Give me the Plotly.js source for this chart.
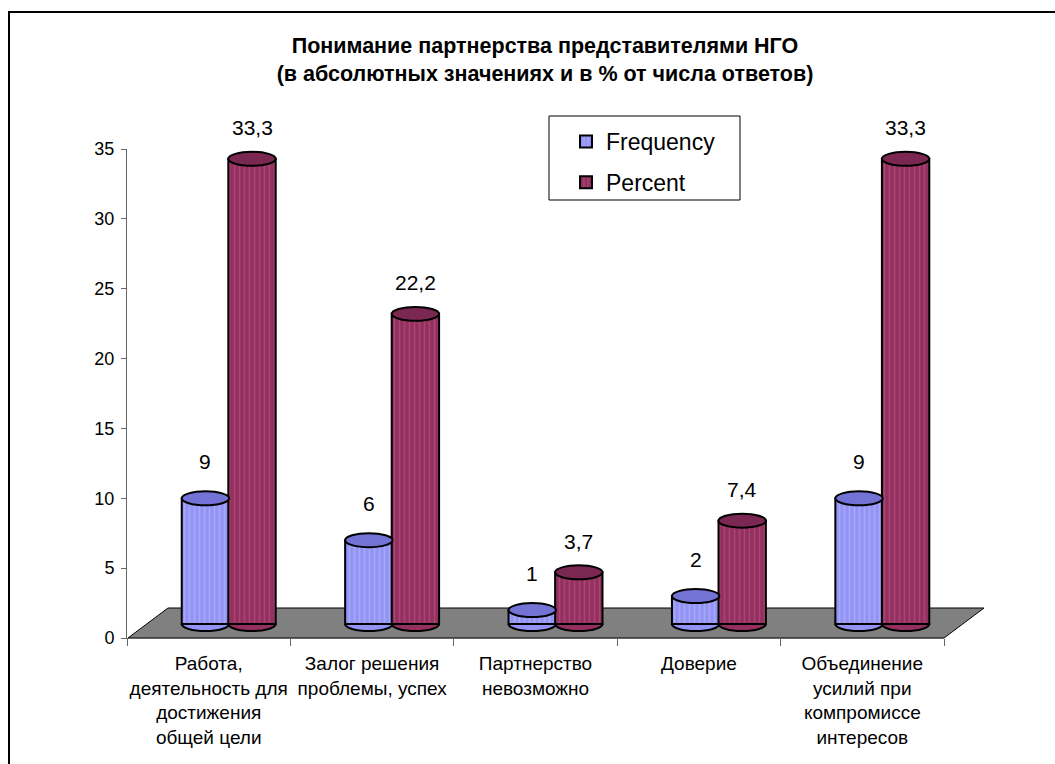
<!DOCTYPE html>
<html>
<head>
<meta charset="utf-8">
<script src="https://cdn.plot.ly/plotly-3.0.1.min.js"></script>
<style>html,body{margin:0;padding:0;background:#fff;}#chart{width:1055px;height:764px;}</style>
</head>
<body>
<div id="chart"></div>
<script>
// ---- data ----
const categories = [
  "Работа,<br>деятельность для<br>достижения<br>общей цели",
  "Залог решения<br>проблемы, успех",
  "Партнерство<br>невозможно",
  "Доверие",
  "Объединение<br>усилий при<br>компромиссе<br>интересов"
];
const frequency = [9, 6, 1, 2, 9];
const percent = [33.3, 22.2, 3.7, 7.4, 33.3];
const seriesNames = ["Frequency", "Percent"];
const yTicks = [0, 5, 10, 15, 20, 25, 30, 35];

// ---- geometry (pixels) ----
const W = 1055, H = 764;
const L = 127, R = 944, T = 149, B = 638;
const px2x = p => (p - L) / (R - L);
const px2y = p => (B - p) / (B - T);

const fmt = v => String(v).replace('.', ',');
const FONT = 'Liberation Sans, Arial, sans-serif';

const freqOffset = -0.165, pctOffset = 0.12, barW = 0.29;
const ellH = 0.5;

const fFill = '#9393F5', fTop = '#7373D6';
const pFill = '#93305F', pTop = '#7A2752';

const traces = [
  {
    type: 'bar', name: seriesNames[0], x: categories, y: frequency,
    xaxis: 'x', yaxis: 'y2', offset: freqOffset, width: barW,
    legendgroup: 'f',
    marker: {color: fFill, line: {color: '#000', width: 2},
      pattern: {shape: '|', fillmode: 'overlay', fgcolor: '#BDBDFF', size: 5, solidity: 0.3}},
    hoverinfo: 'skip'
  },
  {
    type: 'bar', name: seriesNames[1], x: categories, y: percent,
    xaxis: 'x', yaxis: 'y2', offset: pctOffset, width: barW,
    legendgroup: 'p',
    marker: {color: pFill, line: {color: '#000', width: 2},
      pattern: {shape: '|', fillmode: 'overlay', fgcolor: '#BC5A8A', size: 5, solidity: 0.3}},
    hoverinfo: 'skip'
  },
  // anchor trace so the value axis (0–35) is drawn
  {
    type: 'scatter', mode: 'markers', x: [categories[0]], y: [0],
    xaxis: 'x', yaxis: 'y', marker: {opacity: 0}, showlegend: false, hoverinfo: 'skip'
  }
];

const shapes = [];
// outer border
shapes.push({type: 'rect', xref: 'paper', yref: 'paper', layer: 'below',
  x0: px2x(9), x1: px2x(1070), y0: px2y(780), y1: px2y(12),
  line: {color: '#000', width: 2}, fillcolor: 'rgba(0,0,0,0)'});
// legend box
shapes.push({type: 'rect', xref: 'paper', yref: 'paper', layer: 'below',
  x0: px2x(549), x1: px2x(740), y0: px2y(200), y1: px2y(116),
  line: {color: '#000', width: 1}, fillcolor: '#fff'});
// floor
shapes.push({type: 'path', xref: 'paper', yref: 'paper', layer: 'below',
  path: `M ${px2x(128)} ${px2y(638)} L ${px2x(944)} ${px2y(638)} L ${px2x(984)} ${px2y(608)} L ${px2x(168)} ${px2y(608)} Z`,
  fillcolor: '#808080', line: {color: '#000', width: 1}});

const series = [
  {vals: frequency, off: freqOffset, fill: fFill, top: fTop},
  {vals: percent, off: pctOffset, fill: pFill, top: pTop}
];
series.forEach(s => {
  s.vals.forEach((v, i) => {
    shapes.push({type: 'circle', xref: 'x', yref: 'y2', layer: 'below',
      x0: i + s.off, x1: i + s.off + barW, y0: -ellH, y1: ellH,
      fillcolor: s.fill, line: {color: '#000', width: 2}});
    shapes.push({type: 'circle', xref: 'x', yref: 'y2', layer: 'above',
      x0: i + s.off, x1: i + s.off + barW, y0: v - ellH, y1: v + ellH,
      fillcolor: s.top, line: {color: '#000', width: 2}});
  });
});

const annotations = [];
frequency.forEach((v, i) => annotations.push({
  xref: 'x', yref: 'y2', x: i + freqOffset + barW / 2, y: v, yshift: 37,
  text: fmt(v), showarrow: false, font: {size: 21, color: '#000', family: FONT}
}));
percent.forEach((v, i) => annotations.push({
  xref: 'x', yref: 'y2', x: i + pctOffset + barW / 2, y: v, yshift: 31,
  text: fmt(v), showarrow: false, font: {size: 21, color: '#000', family: FONT}
}));

const layout = {
  width: W, height: H,
  margin: {l: L, r: W - R, t: T, b: H - B, pad: 0},
  paper_bgcolor: '#fff', plot_bgcolor: 'rgba(0,0,0,0)',
  font: {family: FONT, color: '#000', size: 18},
  title: {
    text: '<b>Понимание партнерства представителями НГО<br>(в абсолютных значениях и в % от числа ответов)</b>',
    font: {size: 21.5, family: FONT, color: '#000'},
    x: 545 / W, xanchor: 'center', xref: 'container',
    y: 1 - 53 / H, yanchor: 'top', yref: 'container'
  },
  showlegend: true,
  legend: {
    x: px2x(566), y: px2y(120), xanchor: 'left', yanchor: 'top',
    borderwidth: 0, bgcolor: 'rgba(0,0,0,0)',
    font: {size: 23}, itemwidth: 30, traceorder: 'grouped', tracegroupgap: 8
  },
  bargap: 0, barmode: 'group',
  xaxis: {
    type: 'category', categoryorder: 'array', categoryarray: categories,
    range: [-0.5, 4.5], tickson: 'boundaries', ticks: 'outside', ticklen: 7,
    tickcolor: '#666', showline: true, linecolor: '#666', linewidth: 1,
    showgrid: false, zeroline: false, fixedrange: true, tickangle: 0,
    tickfont: {size: 19}, ticklabelstandoff: 8
  },
  yaxis: {
    range: [0, 35], tickvals: yTicks, ticks: 'outside', ticklen: 5,
    tickcolor: '#666', showline: true, linecolor: '#666', linewidth: 1,
    showgrid: false, zeroline: false, tickfont: {size: 18}, ticklabelstandoff: 3
  },
  yaxis2: {
    overlaying: 'y', range: [-1.0, 34.0], visible: false, showgrid: false, zeroline: false
  },
  shapes: shapes,
  annotations: annotations
};

Plotly.newPlot('chart', traces, layout, {displayModeBar: false, staticPlot: true});
</script>
</body>
</html>
